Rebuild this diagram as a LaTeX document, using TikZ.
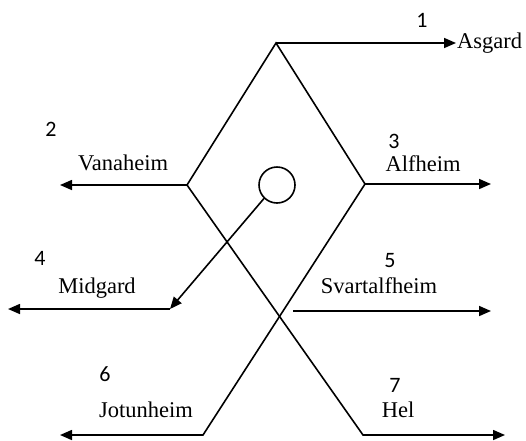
\documentclass[tikz,border=0pt]{standalone}
\usepackage{fontspec}
\setmainfont{Liberation Serif}
\newfontfamily\numfont{Carlito}
\usetikzlibrary{arrows.meta}
\begin{document}
\begin{tikzpicture}[x=1pt,y=-1pt,
  ln/.style={line width=1.6pt,line join=miter},
  arr/.style={ln,-{Triangle[length=12pt,width=10pt]}},
  lbl/.style={inner sep=0pt,anchor=base,font=\fontsize{22.5}{26}\selectfont},
  num/.style={inner sep=0pt,anchor=base,font=\numfont\fontsize{22}{26}\selectfont}]
\useasboundingbox (0,0) rectangle (526,440);
% key points
\coordinate (apex) at (276,43);
\coordinate (lv) at (187,185);
\coordinate (rv) at (365,184);
\coordinate (hb) at (363,435);
\coordinate (jb) at (203,435);
\coordinate (mg) at (170,309);
\coordinate (sv) at (293,311);
\node[circle,draw,line width=1.6pt,minimum size=36pt,inner sep=0pt] (c) at (277,185) {};
% end points of the arrows
\coordinate (asgE) at (456,43);
\coordinate (vanE) at (60,185);
\coordinate (alfE) at (491,184);
\coordinate (midE) at (8,309);
\coordinate (svaE) at (491,311);
\coordinate (jotE) at (60,435);
\coordinate (helE) at (505,435);
% labels
\node[lbl,anchor=base west] (asg) at (457,48) {Asgard};
\node[lbl] (van) at (123,170) {Vanaheim};
\node[lbl] (alf) at (423,171) {Alfheim};
\node[lbl] (mid) at (97,293) {Midgard};
\node[lbl] (sva) at (379,293) {Svartalfheim};
\node[lbl] (jot) at (146,417) {Jotunheim};
\node[lbl] (hel) at (398,417) {Hel};
\node[num] (n1) at (422,27) {1};
\node[num] (n2) at (51,136) {2};
\node[num] (n3) at (394,148) {3};
\node[num] (n4) at (40,265) {4};
\node[num] (n5) at (390,267) {5};
\node[num] (n6) at (105,381) {6};
\node[num] (n7) at (395,392) {7};
% lines
\draw[ln] (lv) -- (apex) -- (rv);
\draw[arr] (apex) -- (asgE);
\draw[arr] (lv) -- (vanE);
\draw[arr] (rv) -- (alfE);
\draw[arr] (lv) -- (hb) -- (helE);
\draw[arr] (rv) -- (jb) -- (jotE);
\draw[arr] (c.-134) -- (mg);
\draw[arr] (mg) -- (midE);
\draw[arr] (sv) -- (svaE);
\end{tikzpicture}
\end{document}
